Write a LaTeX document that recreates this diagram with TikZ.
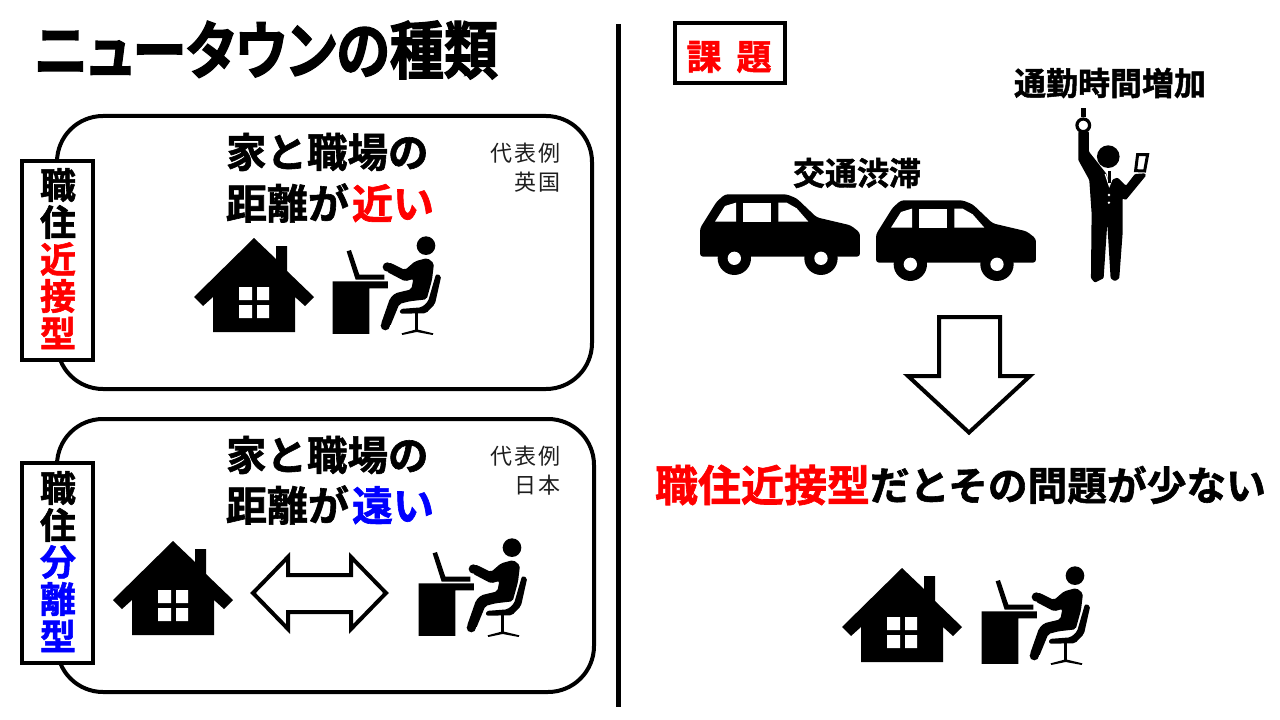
\documentclass[tikz,border=0pt]{standalone}
\usepackage{fontspec}
\setmainfont{Noto Sans CJK JP}[BoldFont=* Bold]
\newfontfamily\jpheavy{Noto Sans CJK JP Bold}[FakeBold=1.5]
\newfontfamily\jptitle{Noto Sans CJK JP Bold}[FakeBold=2,FakeStretch=0.86,RawFeature=+palt]
\newcommand{\fs}[1]{\fontsize{#1bp}{#1bp}\selectfont}
\definecolor{myblue}{RGB}{0,0,255}
\definecolor{myred}{RGB}{255,0,0}
\definecolor{softink}{RGB}{30,30,30}
\tikzset{
  panel/.style={draw=black,line width=4bp,fill=white,rounded corners=46bp},
  tag/.style={draw=black,line width=4bp,fill=white},
  bigarrow/.style={draw=black,line width=4bp,fill=white,miter limit=10},
  txt/.style={inner sep=0pt,outer sep=0pt,text=softink},
  heavy/.style={inner sep=0pt,outer sep=0pt,text=black,font=\jpheavy}
}
\newcommand{\gapx}{\hspace{2.2bp}}
% house, drawn in reference pixels of the first one, shifted by #1
\newcommand{\myhouse}[1]{%
\begin{scope}[shift={(#1)}]
\fill[black] (254,238)--(276,259)--(276,246)--(287,246)--(287,271)--(314,297)--(305,306)--(295,297)--(295,332)--(213,332)--(213,297)--(203,306)--(194,297)--cycle;
\fill[white] (239,287) rectangle (252,300) (257,287) rectangle (269,300) (239,305) rectangle (252,318) (257,305) rectangle (269,318);
\end{scope}}
% worker: desk in the 3x crop at (180,220), person in the 3x crop at (370,230)
\newcommand{\myworker}[1]{%
\begin{scope}[shift={(#1)},shift={(180,220)},x=0.3333bp,y=-0.3333bp]
\fill[black] (458,184) -- (624,184) -- (624,205) -- (568,205) -- (568,342) -- (458,342) -- cycle;
\fill[black] (500,94)--(513,90)--(538,164)--(613,164)--(613,179)--(527,179)--cycle;
\end{scope}
\begin{scope}[shift={(#1)},shift={(370,230)},x=0.3333bp,y=-0.3333bp]
\fill[black] (168,47) circle (28);
\fill[black,rounded corners=2bp] (58,97)--(105,120)--(135,94)--(172,84)--(192,100)--(186,150)--(170,208)--(118,214)--(88,222)--(60,290)--(33,282)--(60,205)--(75,190)--(124,178)--(130,147)--(105,154)--(50,125)--cycle;
\fill[black] (52,111) circle (14) (46,287) circle (14);
\fill[black,rounded corners=2bp] (198,132)--(214,137)--(195,222)--(168,250)--(90,251)--(90,237)--(155,232)--(174,215)--cycle;
\fill[black] (135,250) rectangle (145,302);
\fill[black] (140,298)--(190,310)--(188,315)--(140,306)--(97,315)--(95,310)--cycle;
\end{scope}}
% car: coordinates in the 3x crop whose origin is (690,100)
\newcommand{\mycar}[1]{%
\begin{scope}[shift={(#1)},shift={(690,100)},x=0.3333bp,y=-0.3333bp]
\fill[black,rounded corners=3bp] (30,470)--(30,385)--(80,305)--(105,283)--(290,283)--(320,295)--(380,352)--(482,376)--(510,398)--(510,470)--cycle;
\fill[black] (133,475) circle (50) (393,475) circle (50);
\fill[white] (133,475) circle (20) (393,475) circle (20);
\fill[white] (75,365)--(105,318)--(138,308)--(138,365)--cycle;
\fill[white] (160,308) rectangle (242,365);
\fill[white] (265,308)--(290,308)--(320,325)--(355,365)--(265,365)--cycle;
\end{scope}}
\begin{document}
\begin{tikzpicture}[x=1bp,y=-1bp]
\useasboundingbox (0,0) rectangle (1280,720);
\fill[white] (0,0) rectangle (1280,720);
% title
\node[heavy,font=\jptitle,anchor=center] (title) at (266,50) {\fs{63}ニュータウンの種類};
% divider
\coordinate (divtop) at (618,24);
\coordinate (divbot) at (618,707);
\draw[line width=5bp] (divtop)--(divbot);
% panels
\node[panel,minimum width=535bp,minimum height=273bp,inner sep=0pt] (p1) at (324.5,252.5) {};
\node[panel,minimum width=537bp,minimum height=273bp,inner sep=0pt] (p2) at (325.5,555.5) {};
\node[tag,minimum width=71bp,minimum height=199bp,inner sep=0pt] (t1) at (57.5,260.5) {};
\node[tag,minimum width=71bp,minimum height=200bp,inner sep=0pt] (t2) at (57.5,563) {};
% side labels
\node[heavy] (a1) at (58,185) {\fs{36}職};
\node[heavy] (a2) at (58,222) {\fs{36}住};
\node[heavy,text=myred] (a3) at (58,259) {\fs{36}近};
\node[heavy,text=myred] (a4) at (58,296) {\fs{36}接};
\node[heavy,text=myred] (a5) at (58,333) {\fs{36}型};
\node[heavy] (b1) at (58,488) {\fs{36}職};
\node[heavy] (b2) at (58,525) {\fs{36}住};
\node[heavy,text=myblue] (b3) at (58,562) {\fs{36}分};
\node[heavy,text=myblue] (b4) at (58,599) {\fs{36}離};
\node[heavy,text=myblue] (b5) at (58,636) {\fs{36}型};
% headings
\node[heavy,anchor=west] (h1) at (226,152) {\fs{40.5}家と職場の};
\node[heavy,anchor=west] (h2) at (226,203) {\fs{41}距離が\hspace{3bp}\textcolor{myred}{近い}};
\node[heavy,anchor=west] (h3) at (226,455) {\fs{40.5}家と職場の};
\node[heavy,anchor=west] (h4) at (226,505) {\fs{41}距離が\hspace{3bp}\textcolor{myblue}{遠い}};
% examples
\node[txt,anchor=east] (e1) at (561,153) {\fs{22}代\gapx 表\gapx 例};
\node[txt,anchor=east] (e2) at (561,182) {\fs{22}英\gapx 国};
\node[txt,anchor=east] (e3) at (561,456) {\fs{22}代\gapx 表\gapx 例};
\node[txt,anchor=east] (e4) at (561,485) {\fs{22}日\gapx 本};
% icons
\myhouse{0,0}
\myworker{0,0}
\myhouse{-81,303}
\myworker{86,302}
\myhouse{648,330}
\myworker{649,330}
% double arrow
\draw[bigarrow] (253,593)--(288,557)--(288,575)--(351,575)--(351,557)--(386,593)--(351,629)--(351,612)--(288,612)--(288,629)--cycle;
% right column
\node[tag,minimum width=110bp,minimum height=60bp,inner sep=0pt] (k) at (730,53) {};
\node[heavy,text=myred] (k1) at (729,57) {\fs{35}課\hspace{15bp}題};
\node[heavy] (tt) at (1110,83) {\fs{32}通勤時間増加};
\node[heavy] (jam) at (857,173) {\fs{32}交通渋滞};
\mycar{0,0}
\mycar{176,6}
% standing commuter: coordinates in the 3x crop whose origin is (690,100)
\begin{scope}[shift={(690,100)},x=0.3333bp,y=-0.3333bp]
\fill[black] (1174,25) rectangle (1188,50);
\draw[black,line width=3.2bp,fill=white] (1180,76) circle (19);
\fill[black,rounded corners=1bp] (1165,95)--(1197,95)--(1197,155)--(1250,222)--(1258,258)--(1268,238)--(1283,233)--(1308,257)--(1335,222)--(1365,220)--(1368,227)--(1308,300)--(1298,295)--(1298,400)--(1288,535)--(1275,544)--(1262,535)--(1252,370)--(1241,535)--(1215,548)--(1203,535)--(1205,340)--(1198,240)--(1165,180)--cycle;
\fill[black] (1255,170) circle (34);
\draw[white,line width=1.2bp] (1246,222)--(1258,258)--(1270,228);
\fill[black] (1253,212) rectangle (1263,248);
\fill[white] (1257,285) circle (4) (1257,308) circle (4);
\draw[black,line width=3bp,fill=white] (1343,164)--(1373,164)--(1364,213)--(1337,212)--cycle;
\end{scope}
% down arrow
\draw[bigarrow] (939,317)--(1000,317)--(1000,376)--(1030,376)--(969,432.5)--(908,376)--(939,376)--cycle;
% conclusion
\node[heavy,anchor=west] (c1) at (655,485) {\fs{43}\textcolor{myred}{職住近接型}};
\node[heavy,anchor=west] (c2) at (870,485) {\fs{39.7}だとその問題が少ない};
\end{tikzpicture}
\end{document}
